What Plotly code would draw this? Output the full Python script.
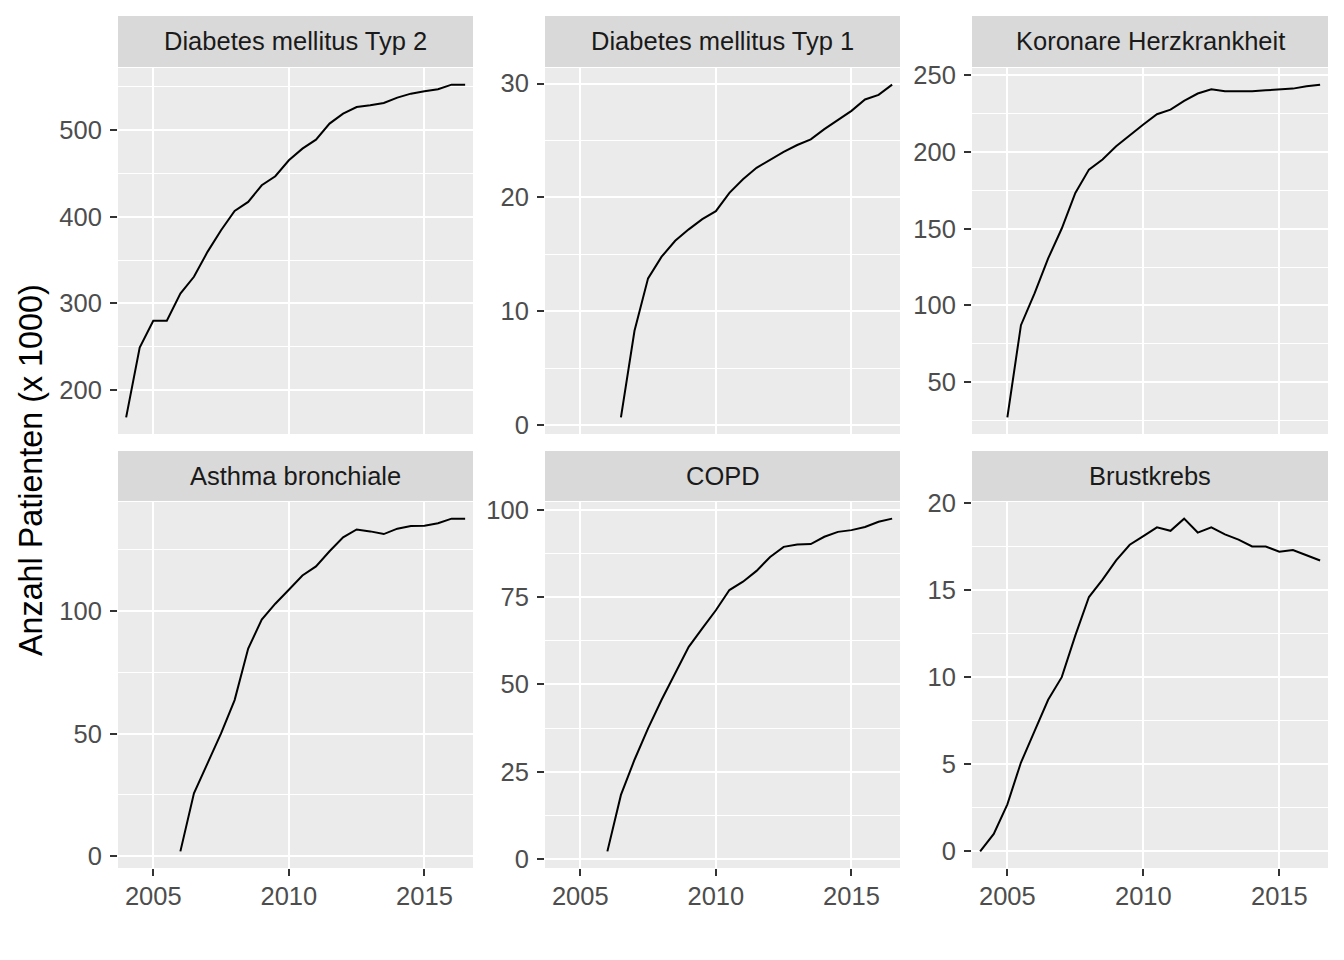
import plotly.graph_objects as go

# ---- data (Anzahl Patienten in Tausend, halbjährlich) ----
years = [2004.0, 2004.5, 2005.0, 2005.5, 2006.0, 2006.5, 2007.0, 2007.5, 2008.0, 2008.5,
         2009.0, 2009.5, 2010.0, 2010.5, 2011.0, 2011.5, 2012.0, 2012.5, 2013.0, 2013.5,
         2014.0, 2014.5, 2015.0, 2015.5, 2016.0, 2016.5]

titles = ["Diabetes mellitus Typ 2", "Diabetes mellitus Typ 1", "Koronare Herzkrankheit",
          "Asthma bronchiale", "COPD", "Brustkrebs"]

dm2 = [168.5, 249.2, 280.0, 280.0, 311.5, 330.8, 359.6, 384.6, 406.9, 417.3,
       436.5, 446.9, 465.4, 478.8, 489.2, 507.7, 519.2, 526.9, 528.8, 531.5,
       537.7, 542.3, 545.0, 547.3, 552.7, 552.7]
dm1 = [0.7, 8.3, 12.9, 14.8, 16.2, 17.2, 18.1, 18.8, 20.4, 21.6,
       22.6, 23.3, 24.0, 24.6, 25.1, 26.0, 26.8, 27.6, 28.6, 29.0, 29.9]
khk = [27.0, 87.1, 107.8, 130.6, 150.1, 173.3, 188.5, 195.1, 203.7, 210.9,
       217.9, 224.6, 227.6, 233.3, 238.1, 240.9, 239.6, 239.6, 239.6, 240.2,
       240.9, 241.3, 242.8, 243.9]
asthma = [2.0, 25.7, 37.9, 50.1, 63.7, 84.7, 96.5, 103.0, 108.7, 114.5,
          118.2, 124.4, 130.1, 133.3, 132.5, 131.4, 133.6, 134.7, 134.8, 135.8,
          137.7, 137.7]
copd = [2.1, 18.3, 28.4, 37.4, 45.6, 53.2, 60.8, 66.1, 71.3, 77.1,
        79.5, 82.6, 86.6, 89.5, 90.2, 90.3, 92.4, 93.8, 94.3, 95.2,
        96.7, 97.6]
brust = [0.0, 1.0, 2.7, 5.1, 6.9, 8.7, 10.0, 12.4, 14.6, 15.6,
         16.7, 17.6, 18.1, 18.6, 18.4, 19.1, 18.3, 18.6, 18.2, 17.9,
         17.5, 17.5, 17.2, 17.3, 17.0, 16.7]

series = [dm2, dm1, khk, asthma, copd, brust]
y_dticks = [100, 10, 50, 50, 25, 5]
x_ticks = [2005, 2010, 2015]

# ---- layout geometry ----
W, H = 1344, 960
col_px = [(118, 473), (545, 900), (972, 1328)]
row_px = [(68, 434), (502, 868)]          # panel top/bottom (px from top)
strip_px = [(16, 67), (451, 501)]

FONT = "Liberation Sans, Arial, sans-serif"
PANEL_BG = "#EBEBEB"
STRIP_BG = "#D9D9D9"
FS = 25.5

fig = go.Figure()
layout = dict(
    width=W, height=H,
    margin=dict(l=0, r=0, t=0, b=0, autoexpand=False),
    paper_bgcolor="white",
    plot_bgcolor=PANEL_BG,
    showlegend=False,
    font=dict(family=FONT),
)
shapes = []
annotations = []

xr = [2003.70, 2016.79]

for i, vals in enumerate(series):
    r, c = divmod(i, 3)
    n = i + 1
    xs = years[-len(vals):]
    fig.add_trace(go.Scatter(
        x=xs, y=vals, mode="lines",
        line=dict(color="black", width=2.0),
        xaxis=f"x{n}", yaxis=f"y{n}", hoverinfo="x+y",
    ))
    x0, x1 = col_px[c]
    t, b = row_px[r]
    xdom = [x0 / W, x1 / W]
    ydom = [1 - b / H, 1 - t / H]
    lo, hi = min(vals), max(vals)
    pad = (hi - lo) * 0.05
    yr = [lo - pad, hi + pad]
    d = y_dticks[i]

    layout[f"xaxis{n}"] = dict(
        domain=xdom, anchor=f"y{n}", range=xr, automargin=False,
        tickmode="array", tickvals=x_ticks,
        showticklabels=(r == 1),
        ticks="outside" if r == 1 else "",
        ticklen=7, tickwidth=1.6, tickcolor="#333333",
        ticklabelstandoff=-2,
        tickfont=dict(size=FS, color="#4D4D4D", family=FONT),
        showgrid=True, gridcolor="white", gridwidth=2.2,
        zeroline=False, showline=False, fixedrange=True,
    )
    layout[f"yaxis{n}"] = dict(
        domain=ydom, anchor=f"x{n}", range=yr, automargin=False,
        tickmode="linear", tick0=0, dtick=d,
        ticks="outside", ticklen=7, tickwidth=1.6, tickcolor="#333333",
        ticklabelstandoff=3,
        tickfont=dict(size=FS, color="#4D4D4D", family=FONT),
        showgrid=True, gridcolor="white", gridwidth=2.2,
        minor=dict(tickmode="linear", tick0=d / 2, dtick=d, showgrid=True,
                   gridcolor="white", gridwidth=1.1, ticks=""),
        zeroline=False, showline=False, fixedrange=True,
    )
    # facet strip
    st, sb = strip_px[r]
    shapes.append(dict(
        type="rect", xref="paper", yref="paper",
        x0=xdom[0], x1=xdom[1], y0=1 - sb / H, y1=1 - st / H,
        fillcolor=STRIP_BG, line=dict(width=0), layer="below",
    ))
    annotations.append(dict(
        text=titles[i], xref="paper", yref="paper",
        x=(xdom[0] + xdom[1]) / 2, y=1 - (st + sb) / 2 / H,
        xanchor="center", yanchor="middle", showarrow=False,
        font=dict(size=FS, color="#1A1A1A", family=FONT),
    ))

annotations.append(dict(
    text="Anzahl Patienten (x 1000)", xref="paper", yref="paper",
    x=31 / W, y=1 - 470 / H, xanchor="center", yanchor="middle",
    textangle=-90, showarrow=False,
    font=dict(size=32.3, color="black", family=FONT),
))

layout["shapes"] = shapes
layout["annotations"] = annotations
fig.update_layout(**layout)
fig.write_html(
    "out.html",
    config={"displayModeBar": False},
    post_script="document.body.style.margin='0';document.body.style.overflow='hidden';",
)
